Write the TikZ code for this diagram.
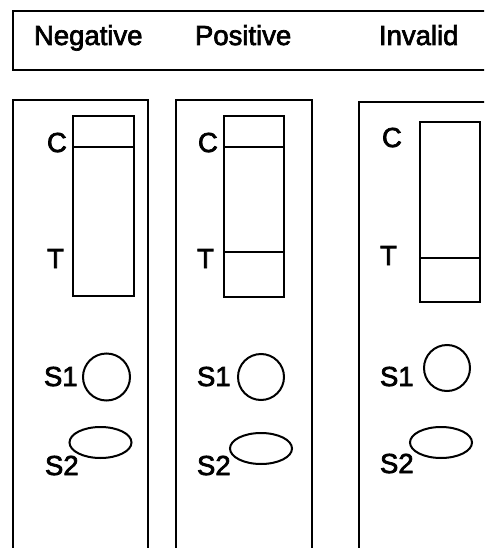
\documentclass[tikz,border=0pt]{standalone}
\usepackage{fontspec}
\setmainfont{Liberation Sans}
\newfontfamily\lblfont[RawFeature={embolden=2.5}]{Liberation Sans}
\begin{document}
\begin{tikzpicture}[x=1pt,y=-1pt,line width=2pt,
  lbl/.style={font=\lblfont\fontsize{27.5}{30}\selectfont,inner sep=0pt,anchor=base west},
  stripbox/.style={draw,line width=2pt},
  well/.style={draw,line width=2pt}]
\useasboundingbox (0,0) rectangle (484,548);
\clip (0,0) rectangle (484,548);
% header
\draw (13,11) rectangle (500,70);
\node[lbl] (neg) at (33,45) {Negative};
\node[lbl] (pos) at (194,45) {Positive};
\node[lbl] (inv) at (378,45) {Invalid};
% panels
\draw (13,100) rectangle (148,600);
\draw (176,100) rectangle (312,600);
\draw (359,102) rectangle (520,600);
% strips
\draw[stripbox] (73,116) rectangle (134,296);
\draw (73,147) -- (134,147);
\draw[stripbox] (224,116) rectangle (284,297);
\draw (224,147) -- (284,147);
\draw (224,252) -- (284,252);
\draw[stripbox] (420,122) rectangle (480,302);
\draw (420,258) -- (480,258);
% labels C/T
\node[lbl] (c1) at (46,152) {C};
\node[lbl] (t1) at (46,268) {T};
\node[lbl] (c2) at (197,152) {C};
\node[lbl] (t2) at (196,268) {T};
\node[lbl] (c3) at (381,147) {C};
\node[lbl] (t3) at (379,265) {T};
% wells
\node[lbl] (s11) at (43,386) {S1};
\node[lbl] (s21) at (44,475) {S2};
\node[lbl] (s12) at (196,386) {S1};
\node[lbl] (s22) at (196,475) {S2};
\node[lbl] (s13) at (379,386) {S1};
\node[lbl] (s23) at (379,473) {S2};
\draw[well] (106.5,377) circle[radius=23.5pt];
\draw[well] (100.5,442.5) ellipse[x radius=31pt,y radius=15.5pt];
\draw[well] (261,377) circle[radius=23pt];
\draw[well] (261,448.5) ellipse[x radius=31pt,y radius=15.5pt];
\draw[well] (447,368) circle[radius=23pt];
\draw[well] (441,442.5) ellipse[x radius=31pt,y radius=15.5pt];
\end{tikzpicture}
\end{document}
